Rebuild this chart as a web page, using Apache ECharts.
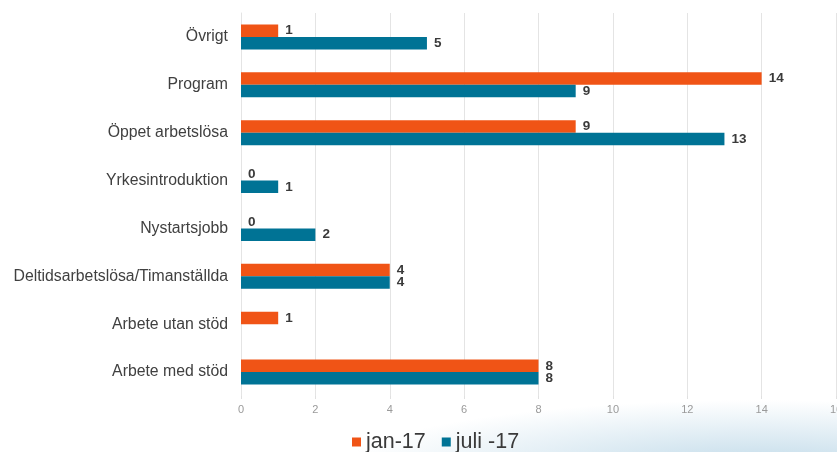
<!DOCTYPE html>
<html><head><meta charset="utf-8">
<script src="https://cdn.jsdelivr.net/npm/echarts@6/dist/echarts.min.js"></script>
<style>
html,body{margin:0;padding:0;width:837px;height:452px;overflow:hidden;
background: radial-gradient(ellipse 420px 70px at 760px 470px, rgba(170,205,225,0.75), rgba(255,255,255,0) 100%), #fff;}
#c{width:837px;height:452px;}
</style></head>
<body><div id="c"></div>
<script>
const categories = ["Arbete med stöd","Arbete utan stöd","Deltidsarbetslösa/Timanställda","Nystartsjobb","Yrkesintroduktion","Öppet arbetslösa","Program","Övrigt"];
const janValues = [8,1,4,0,0,9,14,1];
const juliValues = [8,null,4,2,1,13,9,5];
const xTicks = [0,2,4,6,8,10,12,14,16];

const chart = echarts.init(document.getElementById('c'), null, {renderer:'canvas'});
const lbl = {show:true, position:'right', distance:7, color:'#3a3a3a', fontWeight:'bold', fontSize:13.5, fontFamily:'Liberation Sans, Arial'};
chart.setOption({
  animation:false,
  backgroundColor:'transparent',
  grid:{left:241, right:1, top:13, bottom:56, containLabel:false, outerBoundsMode:'none'},
  legend:{
    data:['jan-17','juli -17'], top:426, left:347,
    icon:'rect', itemWidth:9, itemHeight:9, itemGap:16,
    textStyle:{fontSize:21.5, color:'#3a3a3a', fontFamily:'Liberation Sans, Arial'}
  },
  xAxis:{
    type:'value', min:xTicks[0], max:xTicks[xTicks.length-1], interval:2,
    axisLine:{show:false}, axisTick:{show:true, length:3, lineStyle:{color:'#e0e0e0'}},
    splitLine:{show:true, lineStyle:{color:'#e4e4e4'}},
    axisLabel:{color:'#9a9a9a', fontSize:11, margin:8, fontFamily:'Liberation Sans, Arial'}
  },
  yAxis:{
    type:'category', data:categories,
    axisLine:{show:true, lineStyle:{color:'#e4e4e4'}}, axisTick:{show:false},
    axisLabel:{color:'#404040', fontSize:15.8, margin:13, fontFamily:'Liberation Sans, Arial'}
  },
  series:[
    {name:'jan-17', type:'bar', data:janValues, barWidth:12.5, barGap:'0%',
     itemStyle:{color:'#f05416'}, label:lbl},
    {name:'juli -17', type:'bar', data:juliValues, barWidth:12.5, barGap:'0%',
     itemStyle:{color:'#007395'}, label:lbl}
  ]
});
</script></body></html>
